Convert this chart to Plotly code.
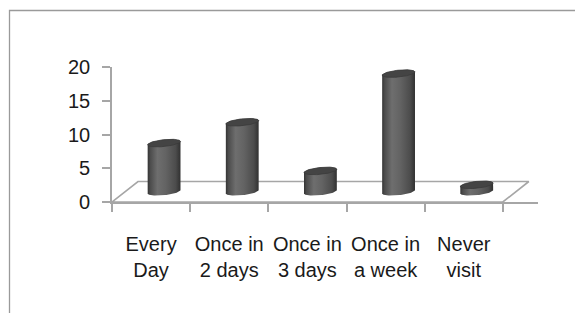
import numpy as np
import plotly.graph_objects as go

categories = ["Every Day", "Once in 2 days", "Once in 3 days", "Once in a week", "Never visit"]
tick_labels = ["Every<br>Day", "Once in<br>2 days", "Once in<br>3 days", "Once in<br>a week", "Never<br>visit"]
values = [7, 10, 3, 17, 1]
y_ticks = [0, 5, 10, 15, 20]

# ---- layout geometry (pixels); page body has an 8px margin ----
OFF = 8
W, H = 583 - OFF, 313 - OFF
ML, MR, MT, MB = 112 - OFF, 45, 67 - OFF, 111
XMAX = 5.45
plot_w = W - ML - MR
plot_h = H - MT - MB
px_x = plot_w / XMAX          # pixels per category unit
px_y = plot_h / 20.0          # pixels per value unit (front axis)

# oblique depth of the floor
DX = 26 / px_x
DY = 20.5 / px_y

# bars sit mid-depth, where perspective scale is slightly different
BAR_SCALE = 6.95                       # px per value unit at mid depth
base_px = (DY / 2) * px_y              # px above plot bottom for bar base
Y2_MIN = -base_px / BAR_SCALE
Y2_MAX = Y2_MIN + plot_h / BAR_SCALE

GRID = "#a6a6a6"
TXT = "#1a1a1a"
FONT = "Liberation Sans, Arial, sans-serif"

fig = go.Figure()

n = len(categories)
# floor
fig.add_trace(go.Scatter(
    x=[0, n, n + DX, DX, 0], y=[0, 0, DY, DY, 0],
    mode="lines", fill="toself", fillcolor="white",
    line=dict(color=GRID, width=1.6), hoverinfo="skip", showlegend=False))

# cylinders
RX_PX, RY_PX, TILT = 16.5, 3.4, np.deg2rad(6)


def ellipse(cx, cy, t):
    ex = RX_PX * np.cos(t)
    ey = RY_PX * np.sin(t)
    xr = ex * np.cos(TILT) - ey * np.sin(TILT)
    yr = ex * np.sin(TILT) + ey * np.cos(TILT)
    return cx + xr / px_x, cy + yr / BAR_SCALE


for i, (cat, v) in enumerate(zip(categories, values)):
    cx = i + 0.5 + DX / 2
    yb = 0
    yt = v
    t_front = np.linspace(np.pi, 2 * np.pi, 40)
    t_back = np.linspace(0, np.pi, 40)
    bx, by = ellipse(cx, yb, t_front)
    tx, ty = ellipse(cx, yt, t_back)
    xs = np.concatenate([bx, tx, bx[:1]])
    ys = np.concatenate([by, ty, by[:1]])
    fig.add_trace(go.Scatter(
        x=xs, y=ys, yaxis="y2", mode="lines", fill="toself",
        line=dict(width=0, color="rgba(0,0,0,0)"),
        fillgradient=dict(type="horizontal",
                          start=cx - RX_PX / px_x, stop=cx + RX_PX / px_x,
                          colorscale=[[0, "#333333"], [0.08, "#4c4c4c"], [0.3, "#6e6e6e"],
                                      [0.55, "#636363"], [0.85, "#4c4c4c"], [1, "#303030"]]),
        hoverinfo="skip", showlegend=False, name=cat))
    t_all = np.linspace(0, 2 * np.pi, 80)
    ex_, ey_ = ellipse(cx, yt, t_all)
    fig.add_trace(go.Scatter(
        x=ex_, y=ey_, yaxis="y2", mode="lines", fill="toself", fillcolor="#444444",
        line=dict(width=0.8, color="#3a3a3a"),
        hoverinfo="skip", showlegend=False, name=cat))

# dummy trace for label axis
fig.add_trace(go.Scatter(x=[0.5], y=[0], xaxis="x2", mode="markers",
                         marker=dict(opacity=0), hoverinfo="skip", showlegend=False))


# outer chart border (paper coords)
def pxx(p):
    return (p - ML) / plot_w


def pxy(p):
    return (MT + plot_h - p) / plot_h


fig.add_shape(type="rect", xref="paper", yref="paper",
              x0=pxx(9.5 - OFF), x1=pxx(W + 20), y0=pxy(H + 20), y1=pxy(10.5 - OFF),
              line=dict(color="#9a9a9a", width=1.3), fillcolor="rgba(0,0,0,0)", layer="below")

fig.update_layout(
    width=W, height=H,
    margin=dict(l=ML, r=MR, t=MT, b=MB),
    paper_bgcolor="white", plot_bgcolor="white",
    font=dict(family=FONT, size=20, color=TXT),
    xaxis=dict(range=[0, XMAX], tickvals=list(range(n + 1)), ticktext=[""] * (n + 1),
               ticks="outside", ticklen=8, tickcolor=GRID, tickwidth=1.6,
               showline=True, linecolor=GRID, linewidth=1.6,
               showgrid=False, zeroline=False, fixedrange=True),
    xaxis2=dict(range=[0, XMAX], overlaying="x", anchor="y", side="bottom",
                tickvals=[i + 0.5 for i in range(n)], ticktext=tick_labels,
                ticks="", showline=False, showgrid=False, zeroline=False,
                ticklabelstandoff=28, tickfont=dict(family=FONT, size=20, color=TXT)),
    yaxis=dict(range=[0, 20], tickvals=y_ticks, ticks="outside", ticklen=8,
               tickcolor=GRID, tickwidth=1.6, showline=True, linecolor=GRID, linewidth=1.6,
               showgrid=False, zeroline=False, ticklabelstandoff=8,
               tickfont=dict(family=FONT, size=20, color=TXT)),
    yaxis2=dict(range=[Y2_MIN, Y2_MAX], overlaying="y", anchor="x", visible=False,
                showgrid=False, zeroline=False),
    showlegend=False,
)

fig.write_html("out.html", config={"displayModeBar": False})
